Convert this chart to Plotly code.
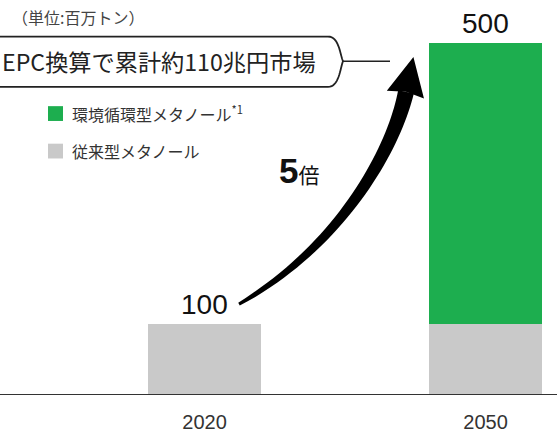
import plotly.graph_objects as go

# Methanol demand (million tonnes)
years = ["2020", "2050"]
conventional = [100, 100]
circular = [0, 400]
totals = [100, 500]
name_circular = "環境循環型メタノール<sup>*1</sup>"
name_conventional = "従来型メタノール"
unit_label = "（単位:百万トン）"
callout_text = "EPC換算で累計約110兆円市場"
growth_label = "<b>5</b><span style='font-size:21px'>倍</span>"

GREEN = "#1dae4f"
GRAY = "#c9c9c9"
INK = "#222222"

W, H = 557, 433
PH = 399  # plot-area height in px (top margin 0)


def P(x, y):
    """pixel position -> paper coordinates"""
    return x / W, (PH - y) / PH


def path_from(points, close=True):
    parts = []
    for i, (x, y) in enumerate(points):
        px, py = P(x, y)
        parts.append(("M" if i == 0 else "L") + f"{px:.5f},{py:.5f}")
    return " ".join(parts) + (" Z" if close else "")


fig = go.Figure()
fig.add_trace(go.Bar(x=years, y=conventional, name=name_conventional,
                     marker=dict(color=GRAY, line=dict(width=0)), width=0.4))
fig.add_trace(go.Bar(x=years, y=circular, name=name_circular,
                     marker=dict(color=GREEN, line=dict(width=0)), width=0.4))

# totals above bars (category axis -> serial index positions)
annotations = []
for i, tot in enumerate(totals):
    annotations.append(dict(x=i, y=tot, xref="x", yref="y", text=str(tot),
                            showarrow=False, yanchor="bottom", yshift=2,
                            font=dict(family="Liberation Sans", size=28, color="#111")))

# unit caption
annotations.append(dict(x=P(10, 17)[0], y=P(10, 17)[1], xref="paper", yref="paper",
                        text=unit_label, showarrow=False, xanchor="left", yanchor="middle",
                        font=dict(family="Noto Sans CJK JP", size=16, color="#444")))
# callout text
annotations.append(dict(x=P(0, 62)[0], y=P(0, 62)[1], xref="paper", yref="paper",
                        text=callout_text, showarrow=False, xanchor="left", yanchor="middle",
                        font=dict(family="Noto Sans CJK JP", size=23.2, color=INK)))

# legend (drawn manually)
shapes = []
legend_rows = [(name_circular, GREEN, 115), (name_conventional, GRAY, 153)]
for label, color, cy in legend_rows:
    x0, y0 = P(48, cy - 7.5)
    x1, y1 = P(63, cy + 7.5)
    shapes.append(dict(type="rect", xref="paper", yref="paper", x0=x0, x1=x1, y0=y1, y1=y0,
                       fillcolor=color, line=dict(width=0)))
    tx, ty = P(70, cy)
    annotations.append(dict(x=tx, y=ty, xref="paper", yref="paper", text=label,
                            showarrow=False, xanchor="left", yanchor="middle",
                            font=dict(family="Noto Sans CJK JP", size=16, color="#333")))

# growth label
gx, gy = P(277, 173)
annotations.append(dict(x=gx, y=gy, xref="paper", yref="paper", text=growth_label,
                        showarrow=False, xanchor="left", yanchor="middle",
                        font=dict(family="Liberation Sans, Noto Sans CJK JP", size=35, color="#111")))

# callout frame with a rounded pointed end and leader line
def bez(p0, p1, p2, p3, n=16):
    pts = []
    for i in range(1, n + 1):
        t = i / n
        a, b, c, d = (1 - t) ** 3, 3 * (1 - t) ** 2 * t, 3 * (1 - t) * t ** 2, t ** 3
        pts.append((a * p0[0] + b * p1[0] + c * p2[0] + d * p3[0],
                    a * p0[1] + b * p1[1] + c * p2[1] + d * p3[1]))
    return pts

frame = [(-5, 37), (328, 37)]
frame += bez((328, 37), (339, 37), (340, 55), (343, 62))
frame += bez((343, 62), (340, 70), (339, 88), (328, 88))
frame += [(-5, 88)]
shapes.append(dict(type="path", xref="paper", yref="paper", path=path_from(frame, close=False),
                   line=dict(color=INK, width=1.8)))
lx0, ly = P(343, 62)
lx1, _ = P(390, 62)
shapes.append(dict(type="line", xref="paper", yref="paper", x0=lx0, x1=lx1, y0=ly, y1=ly,
                   line=dict(color=INK, width=1.6)))

# tapered curved arrow from 100 to 500
P0, P1, P2, P3 = (239, 308), (342, 248), (394, 150), (406, 93)
N = 40
left, right = [], []
for i in range(N + 1):
    t = i / N
    a, b, c, d = (1 - t) ** 3, 3 * (1 - t) ** 2 * t, 3 * (1 - t) * t ** 2, t ** 3
    x = a * P0[0] + b * P1[0] + c * P2[0] + d * P3[0]
    y = a * P0[1] + b * P1[1] + c * P2[1] + d * P3[1]
    dx = 3 * (1 - t) ** 2 * (P1[0] - P0[0]) + 6 * (1 - t) * t * (P2[0] - P1[0]) + 3 * t ** 2 * (P3[0] - P2[0])
    dy = 3 * (1 - t) ** 2 * (P1[1] - P0[1]) + 6 * (1 - t) * t * (P2[1] - P1[1]) + 3 * t ** 2 * (P3[1] - P2[1])
    L = (dx * dx + dy * dy) ** 0.5
    nx, ny = -dy / L, dx / L
    hw = 1.5 + 6.5 * t ** 0.7
    left.append((x + nx * hw, y + ny * hw))
    right.append((x - nx * hw, y - ny * hw))
body = left + right[::-1]
shapes.append(dict(type="path", xref="paper", yref="paper", path=path_from(body),
                   fillcolor="#000", line=dict(width=0)))
# arrow head
ux, uy = dx / L, dy / L
tip = (P3[0] + ux * 36, P3[1] + uy * 36)
hb1 = (P3[0] - uy * 19 - ux * 3, P3[1] + ux * 19 - uy * 3)
hb2 = (P3[0] + uy * 19 - ux * 3, P3[1] - ux * 19 - uy * 3)
shapes.append(dict(type="path", xref="paper", yref="paper", path=path_from([tip, hb1, P3, hb2]),
                   fillcolor="#000", line=dict(width=0)))

fig.update_layout(
    width=W, height=H,
    margin=dict(l=0, r=0, t=0, b=H - PH),
    paper_bgcolor="white", plot_bgcolor="white",
    barmode="stack", bargap=0, showlegend=False,
    xaxis=dict(type="category", range=[-0.728, 1.254], showline=True, linecolor="#333",
               linewidth=1.3, ticks="", showgrid=False, zeroline=False,
               tickfont=dict(family="Liberation Sans", size=20, color="#333"),
               ticklabelstandoff=10),
    yaxis=dict(range=[0, 561], visible=False, showgrid=False, zeroline=False),
    annotations=annotations, shapes=shapes,
)

fig.write_html("out.html")
